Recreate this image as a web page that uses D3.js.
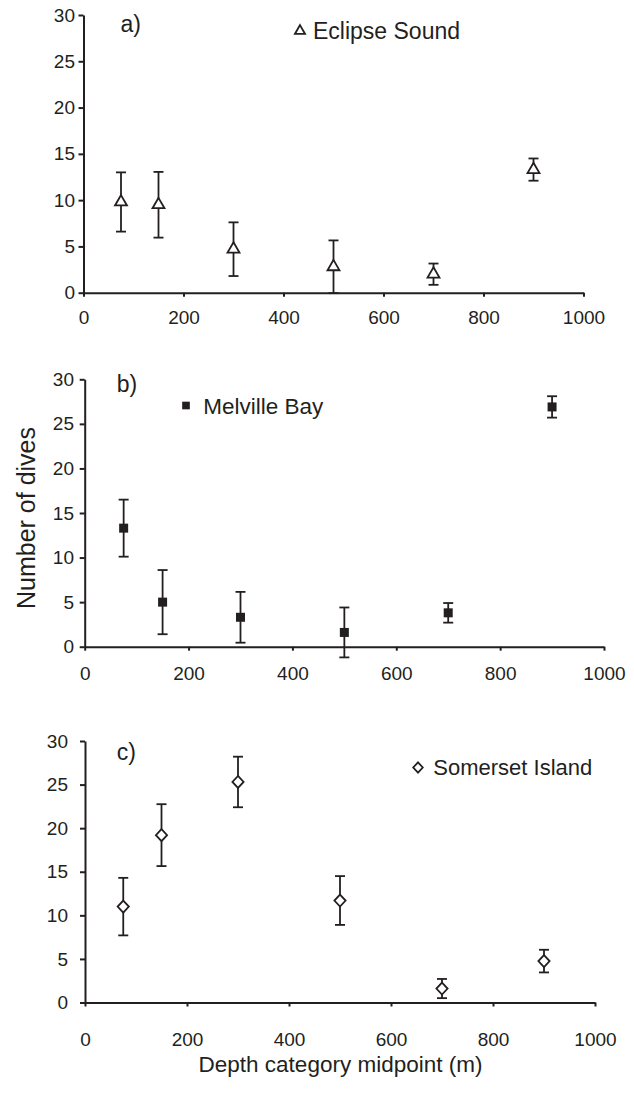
<!DOCTYPE html>
<html>
<head>
    <meta charset="utf-8">
    <title>Dives by depth</title>
    <script src="https://cdn.jsdelivr.net/npm/d3@7"></script>
    <style>
        body {
            margin: 0;
            padding: 0;
            background-color: white;
        }

        svg text {
            font-family: "Liberation Sans", Arial, Helvetica, sans-serif;
            fill: #231f20;
        }

        .axis path,
        .axis line {
            stroke: #231f20;
            stroke-width: 2px;
        }

        .axis text {
            font-size: 19px;
        }
    </style>
</head>
<body>
    <div id="chart"></div>

    <script>
        // depth category midpoints (m)
        const depths = [75, 150, 300, 500, 700, 900];

        // mean number of dives and error (+/-) per site
        const eclipseMean = [9.8, 9.5, 4.7, 2.8, 2.0, 13.3];
        const eclipseErr = [3.2, 3.55, 2.9, 2.85, 1.15, 1.2];

        const melvilleMean = [13.3, 5.0, 3.3, 1.6, 3.8, 26.9];
        const melvilleErr = [3.2, 3.6, 2.85, 2.8, 1.1, 1.2];

        const somersetMean = [11.0, 19.2, 25.3, 11.7, 1.6, 4.75];
        const somersetErr = [3.3, 3.55, 2.9, 2.8, 1.1, 1.3];

        const xTicks = [0, 200, 400, 600, 800, 1000];
        const yTicks = [0, 5, 10, 15, 20, 25, 30];

        const ink = "#231f20";
        const width = 634;
        const height = 1095;

        const svg = d3.select("#chart")
            .append("svg")
            .attr("width", width)
            .attr("height", height);

        const panels = [
            {
                tag: "a)", name: "Eclipse Sound", marker: "triangle",
                mean: eclipseMean, err: eclipseErr,
                x0: 83.5, x1: 583.5, y0: 292.7, y1: 15,
                xPad: 13.5, yPad: 3.5,
                tagPos: [120.5, 31.5], legend: [300, 31, 313, 38.8], legendSize: 23
            },
            {
                tag: "b)", name: "Melville Bay", marker: "square",
                mean: melvilleMean, err: melvilleErr,
                x0: 84.7, x1: 604, y0: 646.7, y1: 379.3,
                xPad: 16, yPad: 5.7,
                tagPos: [116.7, 392], legend: [186, 405.5, 203.3, 414], legendSize: 22.5
            },
            {
                tag: "c)", name: "Somerset Island", marker: "diamond",
                mean: somersetMean, err: somersetErr,
                x0: 85, x1: 595, y0: 1002.5, y1: 741,
                xPad: 26.5, yPad: 12,
                tagPos: [116.7, 760], legend: [418, 767.5, 433.3, 774.5], legendSize: 22
            }
        ];

        function drawMarker(sel, type, big) {
            const k = big ? 1 : 0.85;
            if (type === "triangle") {
                sel.append("path")
                    .attr("d", d3.symbol(d3.symbolTriangle, 62 * k * k)())
                    .attr("fill", "white")
                    .attr("stroke", ink)
                    .attr("stroke-width", 1.8);
            } else if (type === "square") {
                const s = 9 * k;
                sel.append("rect")
                    .attr("x", -s / 2)
                    .attr("y", -s / 2)
                    .attr("width", s)
                    .attr("height", s)
                    .attr("fill", ink);
            } else {
                const w = 5.6 * k, h = 6 * k;
                sel.append("path")
                    .attr("d", `M0,${-h}L${w},0L0,${h}L${-w},0Z`)
                    .attr("fill", "white")
                    .attr("stroke", ink)
                    .attr("stroke-width", 1.8);
            }
        }

        panels.forEach(p => {
            const xScale = d3.scaleLinear().domain([0, 1000]).range([p.x0, p.x1]);
            const yScale = d3.scaleLinear().domain([0, 30]).range([p.y0, p.y1]);

            const g = svg.append("g");

            g.append("g")
                .attr("class", "axis")
                .attr("transform", `translate(0,${p.y0})`)
                .call(d3.axisBottom(xScale).tickValues(xTicks).tickFormat(d3.format("d"))
                    .tickSize(4).tickSizeOuter(0).tickPadding(p.xPad));

            g.append("g")
                .attr("class", "axis")
                .attr("transform", `translate(${p.x0},0)`)
                .call(d3.axisLeft(yScale).tickValues(yTicks).tickFormat(d3.format("d"))
                    .tickSize(5).tickSizeOuter(0).tickPadding(p.yPad));

            g.selectAll(".axis text").attr("fill", ink);

            const data = depths.map((d, i) => ({ depth: d, mean: p.mean[i], err: p.err[i] }));

            const bars = g.selectAll(".bar")
                .data(data)
                .enter()
                .append("g")
                .attr("class", "bar");

            bars.append("line")
                .attr("x1", d => xScale(d.depth))
                .attr("x2", d => xScale(d.depth))
                .attr("y1", d => yScale(d.mean - d.err))
                .attr("y2", d => yScale(d.mean + d.err))
                .attr("stroke", ink)
                .attr("stroke-width", 1.8);

            [-1, 1].forEach(s => {
                bars.append("line")
                    .attr("x1", d => xScale(d.depth) - 5)
                    .attr("x2", d => xScale(d.depth) + 5)
                    .attr("y1", d => yScale(d.mean + s * d.err))
                    .attr("y2", d => yScale(d.mean + s * d.err))
                    .attr("stroke", ink)
                    .attr("stroke-width", 1.8);
            });

            bars.append("g")
                .attr("transform", d => `translate(${xScale(d.depth)},${yScale(d.mean)})`)
                .each(function () { drawMarker(d3.select(this), p.marker, true); });

            // panel tag
            g.append("text")
                .attr("x", p.tagPos[0])
                .attr("y", p.tagPos[1])
                .style("font-size", "23px")
                .text(p.tag);

            // legend
            const lg = g.append("g")
                .attr("transform", `translate(${p.legend[0]},${p.legend[1]})`);
            drawMarker(lg, p.marker, false);

            g.append("text")
                .attr("x", p.legend[2])
                .attr("y", p.legend[3])
                .style("font-size", p.legendSize + "px")
                .text(p.name);
        });

        svg.append("text")
            .attr("transform", "translate(34.5,518) rotate(-90)")
            .attr("text-anchor", "middle")
            .style("font-size", "25px")
            .text("Number of dives");

        svg.append("text")
            .attr("x", 340.5)
            .attr("y", 1072)
            .attr("text-anchor", "middle")
            .style("font-size", "22.5px")
            .text("Depth category midpoint (m)");
    </script>
</body>
</html>
